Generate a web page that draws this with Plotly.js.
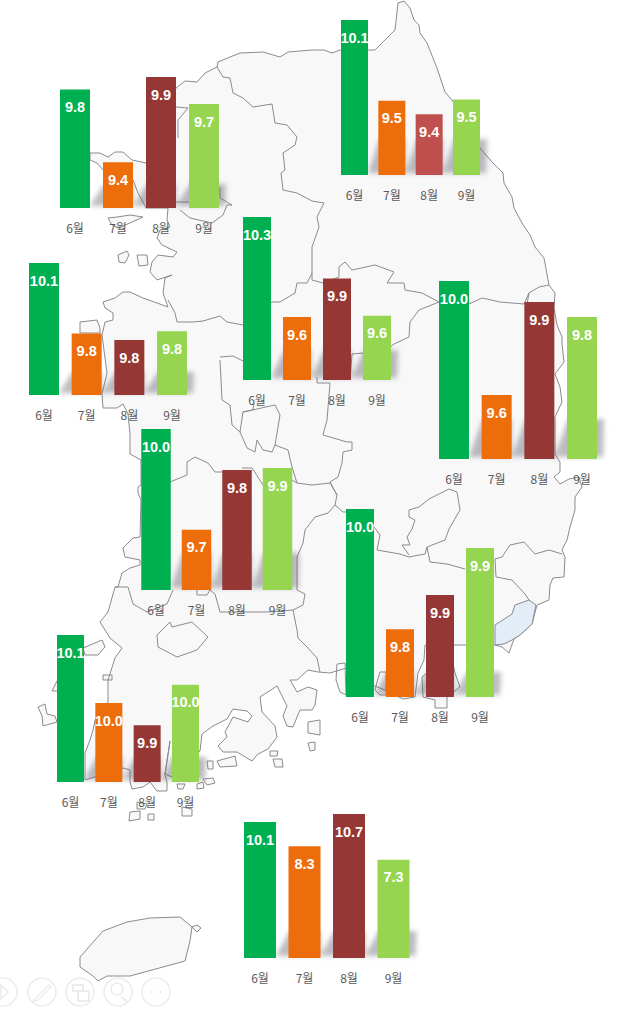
<!DOCTYPE html>
<html><head><meta charset="utf-8">
<script src="https://cdn.plot.ly/plotly-3.0.1.min.js"></script>
<style>html,body{margin:0;padding:0;background:#fff}#c{width:624px;height:1011px}</style>
</head><body><div id="c"></div>
<script>
// ---------- chart values ----------
const months = ['6월','7월','8월','9월'];
const valuesA = [9.81, 9.405, 9.88, 9.73];
const valuesB = [10.10, 9.50, 9.40, 9.51];
const valuesC = [10.14, 9.82, 9.79, 9.83];
const valuesD = [10.30, 9.60, 9.87, 9.61];
const valuesE = [9.96, 9.58, 9.89, 9.84];
const valuesF = [9.98, 9.655, 9.848, 9.854];
const valuesG = [10.0, 9.80, 9.857, 9.935];
const valuesH = [10.06, 9.963, 9.931, 9.989];
const valuesI = [10.1, 8.3, 10.7, 7.3];

const GREEN='#00B050', ORANGE='#ED6D0B', MAROON='#953735', LIME='#95D550', RED='#C0504D';
const barColors = [GREEN, ORANGE, MAROON, LIME];

// panel placement: first/last bar centre, bar width, baseline, top pixel, axis floor, shadow height
const panels = [
 {v:valuesA, c0:75,   c3:204,   w:30,   base:208, top:77,  y0:9.15,  sh:24},
 {v:valuesB, c0:354.5,c3:466.5, w:27,   base:175, top:20,  y0:8.95,  sh:36, colors:[GREEN,ORANGE,RED,LIME]},
 {v:valuesC, c0:44,   c3:172,   w:30,   base:395, top:263, y0:9.54,  sh:23},
 {v:valuesD, c0:257,  c3:377,   w:28,   base:380, top:217, y0:9.16,  sh:30},
 {v:valuesE, c0:454,  c3:582,   w:30,   base:459, top:281, y0:9.367, sh:40},
 {v:valuesF, c0:156,  c3:277.5, w:29.5, base:590, top:429, y0:9.461, sh:37},
 {v:valuesG, c0:360,  c3:480,   w:28,   base:697, top:509, y0:9.687, sh:25},
 {v:valuesH, c0:70.5, c3:185.5, w:27,   base:782, top:635, y0:9.85,  sh:25},
 {v:valuesI, c0:260,  c3:393.5, w:32,   base:958, top:814, y0:0,     sh:27}
];

// ---------- map outlines (page pixels) ----------
const mainland = [[176,88],[185,81],[197,82],[205,73],[217,67],[218,62],[230,57],[240,53],[263,52],[280,57],[288,52],[312,50],[324,50],[332,53],[340,50],[369,50],[375,50],[385,40],[395,30],[398,3],[404,1],[410,8],[414,20],[419,25],[420,33],[427,43],[432,55],[437,68],[442,83],[445,92],[452,100],[480,148],[492,162],[503,173],[504,183],[512,197],[514,208],[522,223],[530,235],[535,247],[544,258],[547,275],[549,285],[555,293],[554,308],[557,325],[562,337],[562,344],[564,362],[555,374],[560,387],[562,402],[555,417],[555,454],[560,462],[560,472],[554,477],[560,484],[569,479],[579,477],[582,487],[575,497],[575,510],[570,527],[567,540],[562,550],[565,557],[564,577],[553,578],[550,585],[549,600],[537,605],[532,624],[520,635],[514,639],[509,653],[502,647],[495,645],[467,645],[453,645],[425,645],[424,660],[418,673],[415,697],[403,699],[385,690],[372,685],[346,668],[330,673],[318,672],[308,670],[297,680],[290,680],[297,692],[308,687],[317,690],[315,705],[312,710],[300,710],[293,727],[287,726],[283,716],[287,706],[277,686],[260,697],[262,712],[275,726],[277,737],[268,749],[258,754],[252,761],[237,752],[223,752],[218,746],[227,737],[225,732],[233,717],[248,722],[252,716],[247,711],[233,709],[227,719],[213,726],[202,734],[200,751],[172,777],[165,774],[168,754],[170,741],[165,775],[167,782],[167,791],[157,791],[150,782],[143,787],[132,789],[130,782],[130,770],[123,768],[95,777],[85,780],[85,753],[90,740],[93,730],[95,720],[108,702],[108,680],[115,658],[122,648],[110,638],[100,622],[108,612],[115,587],[118,587],[122,573],[130,568],[140,565],[140,560],[125,557],[123,548],[133,538],[140,537],[141,500],[138,493],[138,487],[141,485],[141,460],[130,454],[130,434],[128,414],[123,404],[117,408],[103,408],[102,394],[107,373],[102,335],[105,322],[113,320],[113,313],[105,308],[103,302],[115,298],[123,292],[130,292],[143,298],[157,303],[168,307],[163,293],[165,278],[172,275],[157,280],[150,272],[152,262],[158,255],[173,257],[177,252],[162,245],[157,238],[160,230],[170,227],[167,220],[168,208],[146,208],[143,202],[138,193],[133,180],[103,170],[97,163],[90,160],[90,153],[100,153],[108,157],[115,152],[123,152],[132,160],[146,163],[176,88]];
const jeju = [[80,957],[97,937],[103,931],[127,922],[150,918],[180,917],[192,927],[190,941],[185,961],[163,967],[130,976],[107,976],[98,981],[93,976],[80,967],[80,957]];
const islands = [
 [[192,927],[197,925],[201,928],[197,932],[192,927]],
 [[118,255],[127,251],[129,255],[125,263],[119,262],[118,255]],
 [[137,255],[147,255],[148,265],[139,266],[137,255]],
 [[143,217],[130,215],[117,217],[108,218],[112,225],[118,228],[130,223],[142,218],[143,217]],
 [[80,333],[80,322],[97,320],[100,328],[100,333],[80,333]],
 [[207,761],[213,761],[213,769],[208,769],[207,761]],
 [[217,761],[235,756],[237,766],[220,767],[217,761]],
 [[270,751],[278,751],[277,756],[270,756],[270,751]],
 [[273,759],[282,759],[283,767],[275,767],[273,759]],
 [[203,779],[213,778],[215,783],[207,785],[203,779]],
 [[197,784],[203,782],[204,788],[197,789],[197,784]],
 [[177,784],[185,784],[183,789],[178,789],[177,784]],
 [[182,807],[192,809],[192,816],[182,816],[182,807]],
 [[130,812],[140,811],[140,819],[129,821],[130,812]],
 [[148,814],[154,814],[154,820],[148,820],[148,814]],
 [[137,802],[147,804],[145,809],[137,809],[137,802]],
 [[308,722],[320,720],[320,735],[308,733],[308,722]],
 [[308,743],[315,742],[315,750],[310,751],[308,743]],
 [[345,663],[337,664],[336,680],[340,692],[346,695],[345,663]],
 [[377,682],[380,672],[386,672],[386,695],[380,695],[375,690],[377,682]],
 [[422,677],[423,697],[435,700],[435,708],[447,708],[447,697],[460,687],[455,673],[453,663],[440,663],[422,677]],
 [[83,648],[102,640],[105,647],[98,655],[85,655],[83,648]],
 [[38,707],[45,704],[47,714],[55,716],[57,722],[43,726],[42,716],[38,707]],
 [[52,691],[57,681],[60,691],[52,691]],
 [[103,675],[112,675],[112,680],[103,680],[103,675]]
];
const gwangju = [[157,635],[170,622],[172,627],[192,622],[208,637],[197,650],[177,657],[158,647],[157,635]];
const busan = [[529,600],[536,605],[532,624],[520,635],[512,640],[504,644],[495,645],[495,625],[512,614],[515,605],[529,600]];
const borders = [
 [[217,67],[223,77],[230,78],[233,93],[243,98],[253,107],[272,104],[275,123],[287,125],[297,137],[295,145],[283,153],[285,170],[281,173],[283,190],[297,193],[312,201],[324,203],[317,217],[319,227],[312,247],[312,273],[307,283],[297,283],[295,293],[280,302],[272,302],[243,325],[227,322],[220,316],[203,321],[193,322],[177,322],[175,313],[168,300]],
 [[312,273],[312,280],[323,283],[339,277],[339,267],[345,262],[352,270],[375,265],[394,272],[387,283],[404,283],[405,290],[422,293],[439,302],[469,304],[482,298],[500,302],[515,303],[524,304],[529,293],[539,287],[549,285]],
 [[529,293],[527,304]],
 [[439,302],[419,310],[410,322],[409,337],[394,344],[385,351],[352,354],[350,380]],
 [[317,377],[317,383],[330,383],[327,420],[323,435],[333,438],[347,442],[352,442],[352,450],[343,452],[342,463],[338,477],[330,482],[337,495],[335,505],[343,512],[346,512]],
 [[374,527],[380,535],[377,550],[400,554],[409,557],[425,554],[427,547],[445,540],[449,529],[460,510],[457,492],[449,489],[429,499],[419,507],[409,510],[409,517],[415,520],[412,529],[407,537],[410,545],[402,545],[409,555]],
 [[427,547],[430,562],[447,564],[465,569]],
 [[495,559],[502,557],[510,545],[524,542],[535,554],[549,550],[562,554]],
 [[495,559],[496,577],[512,580],[525,594],[529,600]],
 [[335,505],[328,513],[315,517],[305,530],[303,543],[297,557],[297,590],[305,594],[303,605],[293,610],[297,630],[298,638],[307,647],[317,658],[320,672]],
 [[170,482],[187,475],[187,462],[195,457],[208,463],[215,472],[222,472]],
 [[242,468],[252,468],[263,485]],
 [[292,480],[297,483],[312,485],[330,483],[337,495]],
 [[220,357],[233,356],[243,361]],
 [[220,360],[222,400],[230,405],[232,425],[240,432],[243,412],[253,410],[254,403]],
 [[243,412],[253,410],[275,405],[280,415],[275,445],[272,452],[263,450],[257,440],[255,452],[247,448],[240,432]],
 [[275,445],[288,450],[292,467],[297,483]],
 [[115,587],[128,587],[133,604],[147,612],[167,604],[173,590]],
 [[197,590],[197,595],[207,595],[210,590],[215,594],[220,612],[237,612],[267,612],[293,610]],
 [[176,107],[188,108],[178,120],[178,138]],
 [[176,202],[189,202]],
 [[180,210],[190,218],[212,223],[223,215],[227,205],[232,205],[220,198],[220,187]]
];

// ---------- helpers ----------
const join = (list, i) => list.flatMap(p => p.concat([[null,null]])).map(q => q[i]);
const data = [];
const lineCol = '#8b8b8f';
const land = [mainland, jeju].concat(islands);
data.push({type:'scatter',mode:'lines',x:join(land,0),y:join(land,1),fill:'toself',fillcolor:'#F8F8F9',
  line:{color:lineCol,width:1},hoverinfo:'skip',xaxis:'x',yaxis:'y',showlegend:false});
data.push({type:'scatter',mode:'lines',x:busan.map(p=>p[0]),y:busan.map(p=>p[1]),fill:'toself',fillcolor:'#E3EDF8',
  line:{color:lineCol,width:1},hoverinfo:'skip',xaxis:'x',yaxis:'y',showlegend:false});
data.push({type:'scatter',mode:'lines',x:gwangju.map(p=>p[0]),y:gwangju.map(p=>p[1]),
  line:{color:lineCol,width:1},hoverinfo:'skip',xaxis:'x',yaxis:'y',showlegend:false});
data.push({type:'scatter',mode:'lines',x:join(borders,0),y:join(borders,1),
  line:{color:lineCol,width:1},hoverinfo:'skip',xaxis:'x',yaxis:'y',showlegend:false});

// soft slanted shadow behind each small bar chart (blurred after drawing)
const sx=[],sy=[];
panels.forEach(p=>{
  const pitch=(p.c3-p.c0)/3;
  for(let i=1;i<4;i++){
    const px=p.c0+(i-1)*pitch+p.w/2, gx=pitch-p.w;
    const cx=p.c0+i*pitch+p.w/2+(i===3?6:0);
    const b=p.base-2, t=p.base-p.sh;
    sx.push(px,px+gx+1,cx+(i===3?1:0),cx,px,null);
    sy.push(b,t,t,b,b,null);
  }
});
data.push({type:'scatter',mode:'lines',x:sx,y:sy,fill:'toself',fillcolor:'rgba(95,95,105,0.42)',
  line:{width:0,color:'rgba(0,0,0,0)'},hoverinfo:'skip',xaxis:'x',yaxis:'y',showlegend:false});

const layout = {
  width:624,height:1011,margin:{l:0,r:0,t:0,b:0},paper_bgcolor:'#fff',plot_bgcolor:'rgba(0,0,0,0)',
  showlegend:false,hovermode:false,
  xaxis:{domain:[0,1],range:[0,624],visible:false,fixedrange:true},
  yaxis:{domain:[0,1],range:[1011,0],visible:false,fixedrange:true},
  shapes:[]
};

panels.forEach((p,i)=>{
  const n=i+2, pitch=(p.c3-p.c0)/3;
  const xk='xaxis'+n, yk='yaxis'+n;
  const top=Math.max.apply(null,p.v);
  layout[xk]={domain:[(p.c0-pitch/2)/624,(p.c3+pitch/2)/624],anchor:'y'+n,type:'category',
    categoryorder:'array',categoryarray:months,range:[-0.5,3.5],fixedrange:true,
    showgrid:false,zeroline:false,showline:false,ticks:'outside',ticklen:10,tickwidth:0,tickcolor:'rgba(0,0,0,0)',
    tickfont:{family:'"Noto Sans CJK KR","Noto Sans",sans-serif',size:12,color:'#595959'},tickangle:0};
  layout[yk]={domain:[1-p.base/1011,1-p.top/1011],anchor:'x'+n,range:[p.y0,top],visible:false,fixedrange:true};
  data.push({type:'bar',x:months,y:p.v,width:p.w/pitch,marker:{color:p.colors||barColors,line:{width:0}},
    hoverinfo:'skip',xaxis:'x'+n,yaxis:'y'+n,showlegend:false});
  // value labels sit 19 px below the bar top, converted through this panel's own scale
  const unit=(top-p.y0)/(p.base-p.top);
  data.push({type:'scatter',mode:'text',x:months,y:p.v.map(v=>v-19*unit),text:p.v.map(v=>'<b>'+v.toFixed(1)+'</b>'),
    textposition:'middle center',textfont:{family:'"Liberation Sans",Arial,sans-serif',size:14.5,color:'#fff'},
    hoverinfo:'skip',cliponaxis:false,xaxis:'x'+n,yaxis:'y'+n,showlegend:false});
});

// faint toolbar icons bottom-left
const ic='#ececec';
[3,42,80,118,156].forEach(cx=>{
  layout.shapes.push({type:'circle',xref:'x',yref:'y',x0:cx-14,x1:cx+14,y0:978,y1:1006,line:{color:ic,width:1.5},layer:'above'});
});
const ip=(d,w)=>layout.shapes.push({type:'path',path:d,xref:'x',yref:'y',line:{color:ic,width:w||1.5},layer:'above'});
ip('M1,985 L8,992 L1,999 Z');
ip('M33,1001 L36,998 L49,985 L51,987 L38,1000 Z',1.5);
ip('M73,985 H83 V991 H73 Z M78,991 H89 V1001 H78 Z',2);
ip('M122,997 L127,1002',2);
layout.shapes.push({type:'circle',xref:'x',yref:'y',x0:111,x1:123,y0:983,y1:995,line:{color:ic,width:1.5},layer:'above'});
ip('M150,992 H151 M155,992 H156 M160,992 H161',2.5);

Plotly.newPlot('c',data,layout,{displayModeBar:false,staticPlot:true,responsive:false}).then(gd=>{
  // soften the shadow trace (fifth trace of the base subplot)
  const fills=gd.querySelectorAll('.subplot.xy .scatterlayer .trace');
  if(fills[4]) fills[4].style.filter='blur(2.5px)';
});
</script></body></html>
